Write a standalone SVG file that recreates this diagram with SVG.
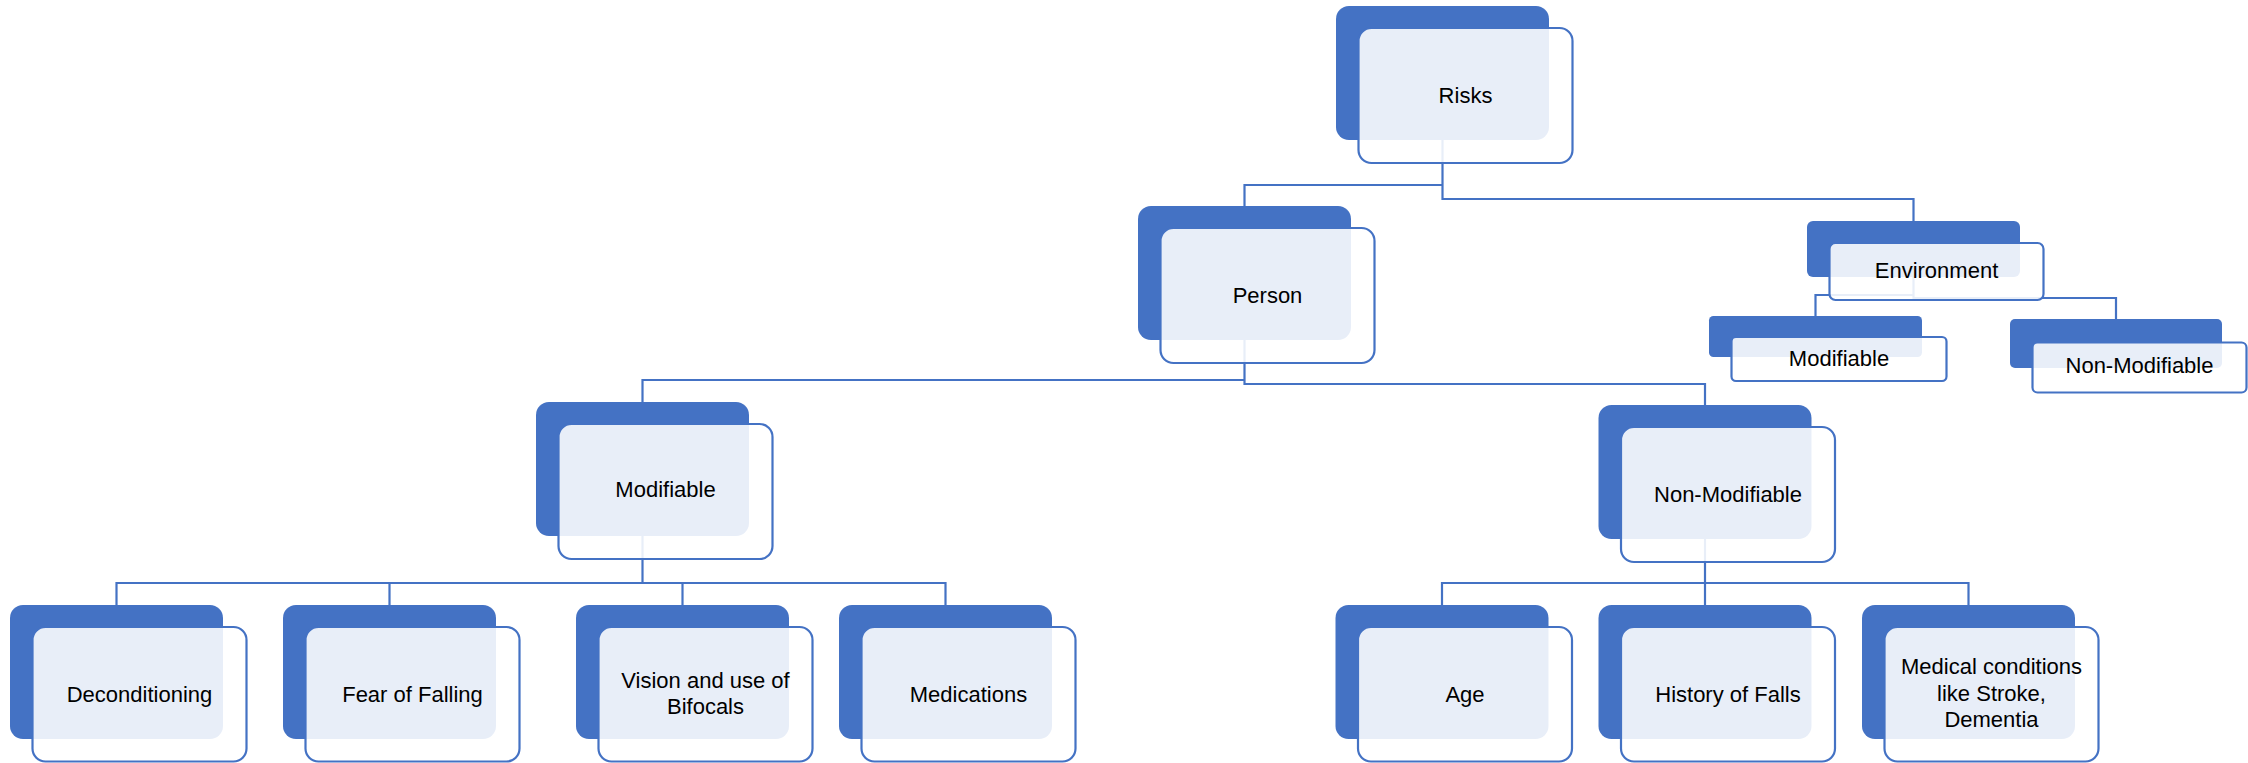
<svg xmlns="http://www.w3.org/2000/svg" width="2248" height="763" viewBox="0 0 2248 763">
<style>
.bk{fill:#4472C4;stroke:none}
.fr{fill:#FFFFFF;fill-opacity:0.88;stroke:#4472C4;stroke-width:2.2}
.cn{fill:none;stroke:#4472C4;stroke-width:2.2}
text{font-family:"Liberation Sans",Arial,sans-serif;font-size:22px;fill:#000;text-anchor:middle}
</style>
<rect width="2248" height="763" fill="#FFFFFF"/>
<g id="connectors">
<path class="cn" d="M1442.5,140 V199 H1913.5 V221"/>
<path class="cn" d="M1442.5,185 H1244.5 V206"/>
<path class="cn" d="M1913.5,277 V298 H2116 V319"/>
<path class="cn" d="M1913.5,295 H1815.5 V316"/>
<path class="cn" d="M1244.5,340 V384 H1705 V405"/>
<path class="cn" d="M1244.5,380 H642.5 V402"/>
<path class="cn" d="M642.5,536 V583"/>
<path class="cn" d="M116.5,605 V583 H945.5 V605"/>
<path class="cn" d="M389.5,583 V605"/>
<path class="cn" d="M682.5,583 V605"/>
<path class="cn" d="M1705,539 V605"/>
<path class="cn" d="M1442,605 V583 H1968.5 V605"/>
</g>
<g id="node-risks">
<rect class="bk" x="1336" y="6" width="213" height="134" rx="13"/>
<rect class="fr" x="1358.5" y="28" width="214" height="135" rx="13"/>
<text x="1465.5" y="103">Risks</text>
</g>
<g id="node-person">
<rect class="bk" x="1138" y="206" width="213" height="134" rx="13"/>
<rect class="fr" x="1160.5" y="228" width="214" height="135" rx="13"/>
<text x="1267.5" y="303">Person</text>
</g>
<g id="node-environment">
<rect class="bk" x="1807" y="221" width="213" height="56" rx="6"/>
<rect class="fr" x="1829.5" y="243" width="214" height="57" rx="6"/>
<text x="1936.5" y="278">Environment</text>
</g>
<g id="node-env-modifiable">
<rect class="bk" x="1709" y="316" width="213" height="41" rx="4.5"/>
<rect class="fr" x="1731.5" y="337" width="215" height="44" rx="4.5"/>
<text x="1839" y="366">Modifiable</text>
</g>
<g id="node-env-nonmodifiable">
<rect class="bk" x="2010" y="319" width="212" height="49" rx="5"/>
<rect class="fr" x="2032.5" y="342.5" width="214" height="50" rx="5"/>
<text x="2139.5" y="373">Non-Modifiable</text>
</g>
<g id="node-modifiable">
<rect class="bk" x="536" y="402" width="213" height="134" rx="13"/>
<rect class="fr" x="558.5" y="424" width="214" height="135" rx="13"/>
<text x="665.5" y="497">Modifiable</text>
</g>
<g id="node-nonmodifiable">
<rect class="bk" x="1598.5" y="405" width="213" height="134" rx="13"/>
<rect class="fr" x="1621" y="427" width="214" height="135" rx="13"/>
<text x="1728" y="502">Non-Modifiable</text>
</g>
<g id="node-deconditioning">
<rect class="bk" x="10" y="605" width="213" height="134" rx="13"/>
<rect class="fr" x="32.5" y="627" width="214" height="134.5" rx="13"/>
<text x="139.5" y="701.5">Deconditioning</text>
</g>
<g id="node-fear">
<rect class="bk" x="283" y="605" width="213" height="134" rx="13"/>
<rect class="fr" x="305.5" y="627" width="214" height="134.5" rx="13"/>
<text x="412.5" y="701.5">Fear of Falling</text>
</g>
<g id="node-vision">
<rect class="bk" x="576" y="605" width="213" height="134" rx="13"/>
<rect class="fr" x="598.5" y="627" width="214" height="134.5" rx="13"/>
<text x="705.5" y="688">Vision and use of</text>
<text x="705.5" y="714">Bifocals</text>
</g>
<g id="node-medications">
<rect class="bk" x="839" y="605" width="213" height="134" rx="13"/>
<rect class="fr" x="861.5" y="627" width="214" height="134.5" rx="13"/>
<text x="968.5" y="701.5">Medications</text>
</g>
<g id="node-age">
<rect class="bk" x="1335.5" y="605" width="213" height="134" rx="13"/>
<rect class="fr" x="1358" y="627" width="214" height="134.5" rx="13"/>
<text x="1465" y="702">Age</text>
</g>
<g id="node-history">
<rect class="bk" x="1598.5" y="605" width="213" height="134" rx="13"/>
<rect class="fr" x="1621" y="627" width="214" height="134.5" rx="13"/>
<text x="1728" y="702">History of Falls</text>
</g>
<g id="node-medical">
<rect class="bk" x="1862" y="605" width="213" height="134" rx="13"/>
<rect class="fr" x="1884.5" y="627" width="214" height="134.5" rx="13"/>
<text x="1991.5" y="674">Medical conditions</text>
<text x="1991.5" y="701">like Stroke,</text>
<text x="1991.5" y="726.5">Dementia</text>
</g>
</svg>
